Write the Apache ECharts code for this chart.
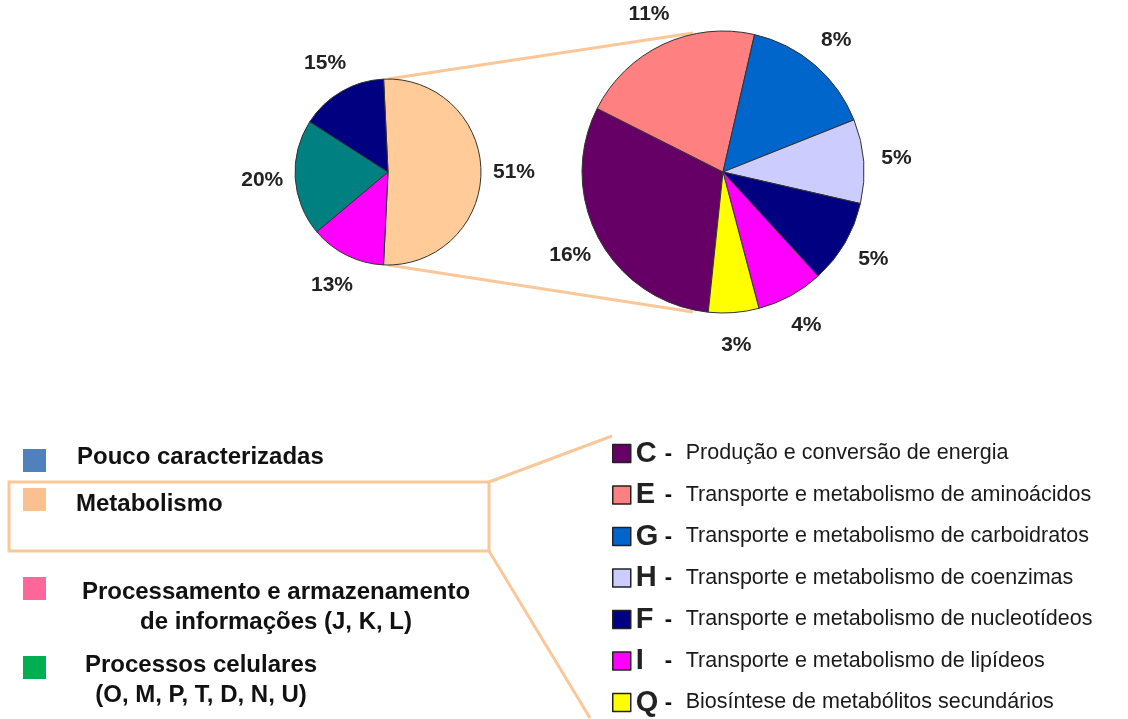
<!DOCTYPE html>
<html>
<head>
<meta charset="utf-8">
<script src="https://cdn.jsdelivr.net/npm/echarts@6/dist/echarts.min.js"></script>
<style>
html,body{margin:0;padding:0;background:#fff;}
#chart{width:1128px;height:719px;}
</style>
</head>
<body>
<div id="chart"></div>
<script>
// Left pie: overall functional categories (clockwise from top)
const leftNames = ['Metabolismo', 'Processamento e armazenamento de informações', 'Processos celulares', 'Pouco caracterizadas'];
const leftValues = [51, 13, 20, 15];
const leftColors = ['#ffcc99', '#ff00ff', '#008080', '#000080'];

// Right pie: breakdown of Metabolismo
const rightCodes = ['C', 'E', 'G', 'H', 'F', 'I', 'Q'];
const rightDescs = [
  'Produção e conversão de energia',
  'Transporte e metabolismo de aminoácidos',
  'Transporte e metabolismo de carboidratos',
  'Transporte e metabolismo de coenzimas',
  'Transporte e metabolismo de nucleotídeos',
  'Transporte e metabolismo de lipídeos',
  'Biosíntese de metabólitos secundários'
];
const rightValues = [16, 11, 8, 5, 5, 4, 3];
const rightColors = ['#660066', '#ff8080', '#0066cc', '#ccccff', '#000080', '#ff00ff', '#ffff00'];

// Left legend (category boxes)
const catLabels = ['Pouco caracterizadas', 'Metabolismo', 'Processamento e armazenamento\nde informações (J, K, L)', 'Processos celulares\n(O, M, P, T, D, N, U)'];
const catColors = ['#4f81bd', '#fac090', '#ff6699', '#00b050'];

const FONT = '"Liberation Sans", Arial, sans-serif';
const PEACH = '#fac898';

const leftData = leftNames.map((n, i) => ({ name: n, value: leftValues[i], itemStyle: { color: leftColors[i] } }));
const rightData = rightCodes.map((n, i) => ({ name: n, value: rightValues[i], itemStyle: { color: rightColors[i] } }));

const pctLabel = { show: true, position: 'inside', formatter: '{c}%', color: '#222', fontFamily: FONT, fontSize: 21, fontWeight: 'bold' };

function labelRing(center, radius, startAngle, data) {
  return {
    type: 'pie', center, radius, startAngle, clockwise: true, silent: true,
    itemStyle: { color: 'transparent', borderWidth: 0 },
    data: data.map(d => ({ name: d.name, value: d.value, itemStyle: { color: 'transparent' } })),
    label: pctLabel, labelLine: { show: false }, emphasis: { disabled: true },
    labelLayout: { hideOverlap: false }
  };
}

// Left legend graphics built from arrays
const legY = [461, 500, 589, 668];
const legText = [
  { x: 77, y: 457, align: 'left' },
  { x: 76, y: 504, align: 'left' },
  { x: 276, y: 607, align: 'center' },
  { x: 201, y: 680, align: 'center' }
];
const graphics = [];
catLabels.forEach((t, i) => {
  graphics.push({ type: 'rect', shape: { x: 23, y: legY[i] - 12, width: 23, height: 23 }, style: { fill: catColors[i] }, silent: true });
  graphics.push({
    type: 'text', x: legText[i].x, y: legText[i].y, silent: true,
    style: { text: t, fill: '#111', font: 'bold 24px ' + FONT, align: legText[i].align, verticalAlign: 'middle', lineHeight: 30 }
  });
});
// Highlight box around "Metabolismo" and connectors
graphics.push({ type: 'rect', shape: { x: 9, y: 482, width: 480, height: 69 }, style: { fill: 'none', stroke: PEACH, lineWidth: 3 }, silent: true });
graphics.push({ type: 'line', shape: { x1: 489, y1: 482, x2: 612, y2: 436 }, style: { stroke: PEACH, lineWidth: 3 }, silent: true });
graphics.push({ type: 'line', shape: { x1: 489, y1: 551, x2: 590, y2: 718 }, style: { stroke: PEACH, lineWidth: 3 }, silent: true });
// Pie-to-pie connectors
graphics.push({ type: 'line', shape: { x1: 388, y1: 79, x2: 693, y2: 33 }, style: { stroke: PEACH, lineWidth: 3 }, silent: true, z: -1 });
graphics.push({ type: 'line', shape: { x1: 388, y1: 265, x2: 693, y2: 312 }, style: { stroke: PEACH, lineWidth: 3 }, silent: true, z: -1 });

const chart = echarts.init(document.getElementById('chart'), null, { renderer: 'canvas' });
chart.setOption({
  animation: false,
  backgroundColor: '#fff',
  legend: {
    data: rightCodes,
    orient: 'vertical',
    left: 612, top: 439, height: 300, padding: 0,
    itemWidth: 18, itemHeight: 18, itemGap: 12.5, itemTextGap: 6,
    icon: 'rect',
    selectedMode: false,
    itemStyle: { borderColor: '#222', borderWidth: 1.5 },
    formatter: name => '{l|' + name + '}{d|-}{t|' + rightDescs[rightCodes.indexOf(name)] + '}',
    textStyle: {
      fontFamily: FONT,
      rich: {
        l: { fontSize: 29, fontWeight: 'bold', color: '#222', width: 29, lineHeight: 28, fontFamily: FONT },
        d: { fontSize: 22, fontWeight: 'bold', color: '#111', width: 21, lineHeight: 28, fontFamily: FONT },
        t: { fontSize: 21.5, color: '#1a1a1a', lineHeight: 28, fontFamily: FONT }
      }
    }
  },
  graphic: graphics,
  series: [
    {
      type: 'pie', center: [388, 172], radius: [0, 93], startAngle: 92.7, clockwise: true, silent: true,
      data: leftData, label: { show: false }, labelLine: { show: false },
      itemStyle: { borderColor: '#333', borderWidth: 1 }, emphasis: { disabled: true }
    },
    labelRing([388, 172], [93, 153], 92.7, leftData),
    {
      type: 'pie', center: [723, 172], radius: [0, 141], startAngle: 264, clockwise: true, silent: true,
      data: rightData, label: { show: false }, labelLine: { show: false },
      itemStyle: { borderColor: '#333', borderWidth: 1 }, emphasis: { disabled: true }
    },
    labelRing([723, 172], [141, 201], 264, rightData)
  ]
});
</script>
</body>
</html>
